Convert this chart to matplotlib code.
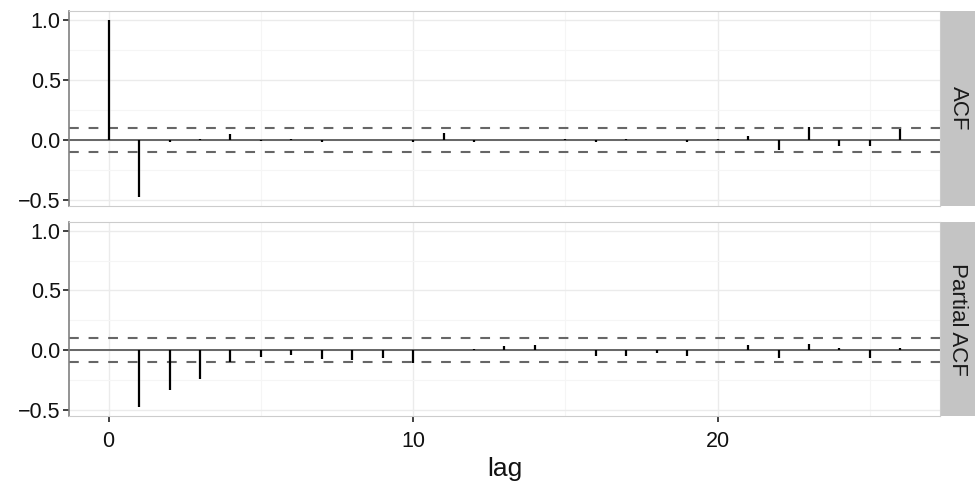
import matplotlib.pyplot as plt
from matplotlib.ticker import MultipleLocator

plt.rcParams['font.family'] = ['Liberation Sans', 'DejaVu Sans']

# ACF values (lag 0..26)
acf_lags = list(range(0, 27))
acf_vals = [1.0, -0.478, -0.02, 0.005, 0.05, -0.012, 0.004, -0.02, 0.0, 0.0,
            -0.02, 0.06, -0.015, 0.0, 0.0, 0.003, -0.02, 0.01, 0.0, -0.015,
            0.005, 0.03, -0.087, 0.105, -0.054, -0.054, 0.092]

# Partial ACF values (lag 1..26)
pacf_lags = list(range(1, 27))
pacf_vals = [-0.48, -0.338, -0.241, -0.099, -0.058, -0.044, -0.077, -0.08, -0.065,
             -0.104, 0.0, 0.01, 0.033, 0.04, 0.0, -0.05, -0.05, -0.02, -0.045,
             0.0, 0.047, -0.063, 0.055, 0.02, -0.068, 0.02]

conf_bound = 0.098
panel_names = ['ACF', 'Partial ACF']

W, H = 975, 484
fig = plt.figure(figsize=(W / 100, H / 100), dpi=100)


def px_axes(x0, y0, x1, y1):
    return fig.add_axes([x0 / W, 1 - y1 / H, (x1 - x0) / W, (y1 - y0) / H])


panels = [
    (px_axes(69, 11, 940, 206), px_axes(941, 11, 975, 206), acf_lags, acf_vals),
    (px_axes(69, 222, 940, 416), px_axes(941, 222, 975, 416), pacf_lags, pacf_vals),
]

for i, (ax, strip, lags, vals) in enumerate(panels):
    ax.set_xlim(-1.3, 27.3)
    ax.set_ylim(-0.552, 1.074)
    ax.xaxis.set_major_locator(MultipleLocator(10))
    ax.xaxis.set_minor_locator(MultipleLocator(5))
    ax.set_yticks([-0.5, 0.0, 0.5, 1.0])
    ax.set_yticklabels(['\u22120.5', '0.0', '0.5', '1.0'])
    ax.yaxis.set_minor_locator(MultipleLocator(0.25))
    ax.grid(True, which='major', color='#ebebeb', lw=1.0, zorder=0)
    ax.grid(True, which='minor', color='#f5f5f5', lw=0.8, zorder=0)
    ax.set_axisbelow(True)

    ax.axhline(0, color='#5a5a5a', lw=1.3, zorder=2)
    for b in (conf_bound, -conf_bound):
        ax.axhline(b, color='#666666', lw=1.5, dashes=(4.7, 4.7), zorder=2)
    ax.vlines(lags, 0, vals, color='black', lw=1.6, zorder=3)

    ax.tick_params(which='major', length=4.5, width=1.3, color='#333333',
                   labelsize=15.5, labelcolor='#111111')
    ax.tick_params(axis='y', pad=1.5)
    ax.tick_params(axis='x', pad=6.5)
    ax.tick_params(which='minor', length=0)
    for side in ('top', 'right', 'bottom'):
        ax.spines[side].set_color('#cccccc')
    ax.spines['left'].set_color('#808080')
    ax.spines['left'].set_linewidth(1.2)
    if i == 0:
        ax.tick_params(axis='x', which='major', length=0, labelbottom=False)
    else:
        ax.set_xlabel('lag', fontsize=19, labelpad=3.5, color='#111111')

    strip.set_facecolor('#c4c4c4')
    strip.set_xticks([])
    strip.set_yticks([])
    for s in strip.spines.values():
        s.set_visible(False)
    strip.text(0.5, 0.5, panel_names[i], rotation=-90, ha='center', va='center',
               fontsize=16, color='#1a1a1a', transform=strip.transAxes)

fig.savefig('out.png', dpi=100)
